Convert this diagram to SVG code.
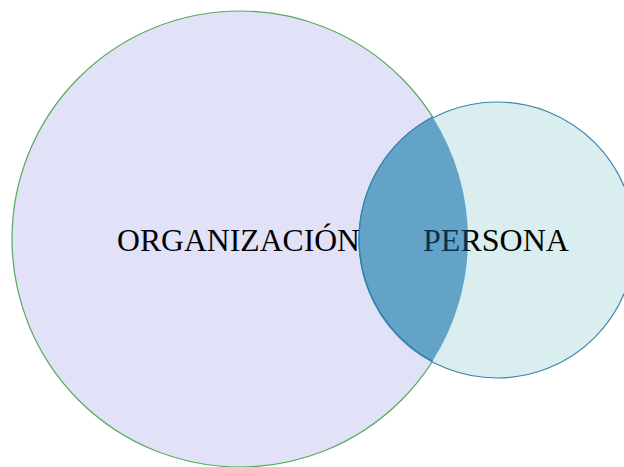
<svg xmlns="http://www.w3.org/2000/svg" width="624" height="467" viewBox="0 0 624 467">
  <style>
    .lbl { font-family: "Liberation Serif", "Times New Roman", serif; font-size: 32px; fill: #000; }
  </style>
  <defs>
    <!-- label ink is tinted navy where it sits on the intersection -->
    <linearGradient id="personaInk" gradientUnits="userSpaceOnUse" x1="423" y1="0" x2="569" y2="0">
      <stop offset="0" stop-color="#0D2F4A"/>
      <stop offset="0.3" stop-color="#0D2F4A"/>
      <stop offset="0.3" stop-color="#000000"/>
      <stop offset="1" stop-color="#000000"/>
    </linearGradient>
  </defs>
  <rect width="624" height="467" fill="#ffffff"/>
  <g id="organizacion">
    <circle cx="240" cy="239" r="228" fill="#E1E1F8" stroke="#5AAA5A" stroke-width="1.2"/>
  </g>
  <g id="persona">
    <circle cx="497" cy="240" r="138" fill="#DAEEF0" stroke="#3585B0" stroke-width="1.2"/>
  </g>
  <g id="interseccion">
    <path d="M 432.6 117 A 138 138 0 0 0 432.6 361 A 228 228 0 0 0 432.6 117 Z" fill="#62A3C7" stroke="none"/>
    <path d="M 432.6 117 A 138 138 0 0 0 432.6 361" fill="none" stroke="#2E7DAA" stroke-width="1.2"/>
  </g>
  <g id="labels">
    <text class="lbl" x="117" y="251" textLength="243" lengthAdjust="spacingAndGlyphs">ORGANIZACIÓN</text>
    <text class="lbl" x="423" y="251" textLength="146" lengthAdjust="spacingAndGlyphs" fill="url(#personaInk)" style="fill:url(#personaInk)">PERSONA</text>
  </g>
</svg>
